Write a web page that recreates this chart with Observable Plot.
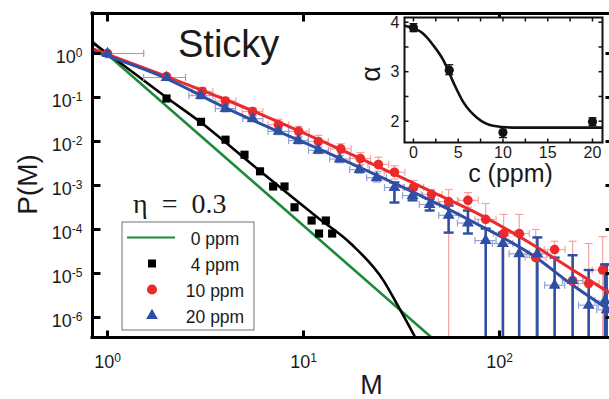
<!DOCTYPE html>
<html>
<head>
<meta charset="utf-8">
<script src="https://cdn.jsdelivr.net/npm/d3@7"></script>
<script src="https://cdn.jsdelivr.net/npm/@observablehq/plot@0.6"></script>
<style>
  html, body { margin: 0; padding: 0; background: #fff; }
  #wrap { position: relative; width: 609px; height: 399px; overflow: hidden; font-family: "Liberation Sans", Arial, sans-serif; }
  #wrap svg { display: block; max-width: none; overflow: visible; }
  #inset { position: absolute; left: 340px; top: 0; }
</style>
</head>
<body>
<div id="wrap"><div id="main"></div><div id="inset"></div></div>
<script>
// ---------------- main axes ----------------
const xDomain = [0.8385, 364];
const yDomain = [3.51e-7, 8.11];
const xTicks = [1, 10, 100];
const yTicks = [1, 1e-1, 1e-2, 1e-3, 1e-4, 1e-5, 1e-6];

// ---------------- 0 ppm (fit line only) ----------------
const fit0M = [0.8385, 45];
const fit0P = [1.87, 3.51e-7];

// ---------------- 4 ppm ----------------
const pts4M = [2, 3, 4, 5, 6, 7, 8, 9, 11, 12, 13, 14];
const pts4P = [0.095, 0.028, 0.011, 0.005, 0.0021, 0.00095, 0.00095, 0.00032, 0.00016, 0.000081, 0.00016, 0.000081];
const fit4M = [0.8385, 1, 2, 3, 5.37, 7.9, 11.75, 17.4, 25.6, 30.2, 37.2];
const fit4P = [1.75, 1, 0.1, 0.027, 0.0032, 0.00079, 0.00019, 0.000048, 0.0000069, 0.0000019, 0.00000035];

// ---------------- 10 ppm ----------------
const pts10M   = [1, 2, 3.05, 4.0, 5.5, 7.45, 9.45, 11.9, 15.5, 19.5, 24.1, 29.1, 36.4, 45, 55, 69, 85, 105, 126, 153, 191, 236, 285, 336];
const pts10P   = [1, 0.30, 0.137, 0.083, 0.048, 0.024, 0.017, 0.010, 0.0068, 0.0041, 0.0030, 0.0020, 0.00090, 0.00063, 0.00043, 0.00046, 0.00017, 8.1e-5, 8.1e-5, 2.3e-5, 3.5e-5, 6.9e-6, 5.9e-6, 1.2e-5];
const pts10Hi  = [1, 0.30, 0.17, 0.10, 0.059, 0.032, 0.022, 0.0138, 0.0089, 0.0056, 0.0044, 0.0028, 0.0013, 0.00081, 0.00081, 0.00069, 0.00039, 2.2e-4, 2.2e-4, 1.0e-4, 5.4e-5, 5.4e-5, 4.8e-5, 6.9e-5];
const pts10Lo  = [1, 0.30, 0.11, 0.066, 0.039, 0.019, 0.013, 0.0073, 0.0054, 0.0030, 0.0021, 0.0014, 5.9e-4, 3.9e-4, 0, 3.2e-4, 0, 0, 0, 0, 0, 0, 0, 0];
const pts10MLo = [1, 2, 2.7, 3.54, 4.87, 6.6, 8.4, 10.5, 13.7, 17.3, 21.3, 25.8, 32.2, 39.8, 48.7, 61, 75, 93, 111.5, 135, 169, 209, 252, 297];
const pts10MHi = [1, 2, 3.45, 4.52, 6.2, 8.4, 10.7, 13.4, 17.5, 22, 27.2, 32.9, 41, 51, 62, 78, 96, 119, 142, 173, 216, 267, 322, 380];
const fit10M = [0.8385, 2, 3.77, 15.4, 56, 71, 156, 230, 370];
const fit10P = [1.28, 0.30, 0.1, 0.0066, 4.6e-4, 2.8e-4, 3.9e-5, 1.3e-5, 3.5e-6];

// ---------------- 20 ppm ----------------
const pts20M   = [1, 2, 3.0, 4.0, 5.5, 7.46, 9.43, 11.9, 15.3, 19.3, 23.6, 29.1, 36, 44, 55, 69, 85, 104, 126, 156, 191, 236, 285, 345, 352];
const pts20P   = [1, 0.285, 0.11, 0.056, 0.033, 0.017, 0.0105, 0.0063, 0.0040, 0.0023, 0.0015, 9.0e-4, 5.9e-4, 3.7e-4, 2.1e-4, 1.4e-4, 5.6e-5, 4.8e-5, 2.8e-5, 2.8e-5, 5.4e-6, 6.9e-6, 1.9e-6, 2.4e-6, 1.5e-6];
const pts20Hi  = [1, 0.32, 0.13, 0.066, 0.039, 0.020, 0.0125, 0.0075, 0.0048, 0.0028, 0.0019, 1.17e-3, 8.5e-4, 5.0e-4, 3.5e-4, 2.7e-4, 1.05e-4, 8.5e-5, 7.7e-5, 6.6e-5, 2.3e-5, 2.6e-5, 1.2e-5, 1.6e-5, 1.6e-5];
const pts20Lo  = [1, 0.25, 0.093, 0.047, 0.028, 0.0143, 0.0088, 0.0053, 0.0033, 0.0019, 0.0012, 4.1e-4, 4.6e-4, 2.7e-4, 8.5e-5, 8.1e-5, 0, 0, 0, 0, 0, 0, 0, 0, 0];
const pts20MLo = [0.7, 1.53, 2.6, 3.55, 4.9, 6.6, 8.4, 10.6, 13.6, 17.2, 21, 25.9, 32, 39, 49, 61, 75, 92, 112, 138, 170, 210, 253, 307, 313];
const pts20MHi = [1.53, 2.5, 3.45, 4.5, 6.2, 8.4, 10.6, 13.4, 17.2, 21.7, 26.5, 32.7, 40.5, 49.5, 62, 78, 96, 117, 142, 176, 215, 266, 320, 388, 396];
const fit20M = [0.8385, 2, 3.77, 15.4, 71, 156, 230, 370];
const fit20P = [1.13, 0.27, 0.066, 0.0041, 1.6e-4, 2.2e-5, 5.9e-6, 1.4e-6];

// ---------------- inset ----------------
const insetC = [0, 4, 10, 20];
const insetAlpha = [3.89, 3.03, 1.77, 1.99];
const insetLo = [3.81, 2.94, 1.67, 1.91];
const insetHi = [3.97, 3.14, 1.87, 2.07];
const insetFitC = [-1, 0, 1, 2.23, 3.35, 4.47, 5.59, 7.1, 8.9, 11.6, 21.12];
const insetFitA = [3.93, 3.88, 3.78, 3.53, 3.23, 2.78, 2.38, 2.07, 1.91, 1.87, 1.87];
const insetXDomain = [-1.0, 21.12];
const insetYDomain = [1.57, 4.095];
const insetXTicks = [0, 5, 10, 15, 20];
const insetXMinor = [0, 2.5, 5, 7.5, 10, 12.5, 15, 17.5, 20];
const insetYTicks = [2, 3, 4];
const insetYMinor = [2, 2.5, 3, 3.5, 4];

// ---------------- texts ----------------
const legendLabels = ["0 ppm", "4 ppm", "10 ppm", "20 ppm"];
const titleText = "Sticky";
const etaText = "\u03b7 = 0.3";
const xLabel = "M", yLabel = "P(M)";
const insetXLabel = "c (ppm)", insetYLabel = "\u03b1";

// ---------------- colours ----------------
const GREEN = "#1d8a3b", RED = "#ec2a2c", RED_LIGHT = "#f5a3a3", BLUE = "#2f4fa4", BLUE_LIGHT = "#8fa2d6";

// ---------------- helpers ----------------
const pairs = (xs, ys) => xs.map((x, i) => ({M: x, P: ys[i]}));
const axisFloor = yDomain[0] / 10;
const errTable = (M, P, lo, hi, mlo, mhi) => M.map((m, i) => ({
  M: m, P: P[i], hi: hi[i], lo: lo[i] > 0 ? lo[i] : axisFloor, toAxis: !(lo[i] > 0), mlo: mlo[i], mhi: mhi[i]
}));
const sym = f => ({draw(ctx, size) { const r = Math.sqrt(size / Math.PI); f(ctx, r); }});
const hCap = sym((c, r) => { c.moveTo(-r, 0); c.lineTo(r, 0); });
const vCap = sym((c, r) => { c.moveTo(0, -r); c.lineTo(0, r); });
const tickUp = sym((c, r) => { c.moveTo(0, 0); c.lineTo(0, -r); });
const tickDown = sym((c, r) => { c.moveTo(0, 0); c.lineTo(0, r); });
const tickRight = sym((c, r) => { c.moveTo(0, 0); c.lineTo(r, 0); });
const tickLeft = sym((c, r) => { c.moveTo(0, 0); c.lineTo(-r, 0); });

const fit0 = pairs(fit0M, fit0P);
const fit4 = pairs(fit4M, fit4P);
const pts4 = pairs(pts4M, pts4P);
const fit10 = pairs(fit10M, fit10P);
const fit20 = pairs(fit20M, fit20P);
const red = errTable(pts10M, pts10P, pts10Lo, pts10Hi, pts10MLo, pts10MHi);
const blue = errTable(pts20M, pts20P, pts20Lo, pts20Hi, pts20MLo, pts20MHi);

function errMarks(data, light, vStroke, vWidth, capR) {
  return [
    Plot.ruleY(data.filter(d => d.mhi > d.mlo), {y: "P", x1: "mlo", x2: "mhi", stroke: light, strokeWidth: 1.2, clip: true}),
    Plot.dot(data.filter(d => d.mhi > d.mlo), {x: "mlo", y: "P", symbol: vCap, r: 3.5, fill: "none", stroke: light, strokeWidth: 1.2, clip: true}),
    Plot.dot(data.filter(d => d.mhi > d.mlo), {x: "mhi", y: "P", symbol: vCap, r: 3.5, fill: "none", stroke: light, strokeWidth: 1.2, clip: true}),
    Plot.ruleX(data.filter(d => d.hi > d.lo), {x: "M", y1: "lo", y2: "hi", stroke: vStroke, strokeWidth: vWidth, clip: true}),
    Plot.dot(data.filter(d => d.hi > d.P), {x: "M", y: "hi", symbol: hCap, r: capR, fill: "none", stroke: vStroke, strokeWidth: vWidth, clip: true}),
    Plot.dot(data.filter(d => !d.toAxis && d.lo < d.P), {x: "M", y: "lo", symbol: hCap, r: capR, fill: "none", stroke: vStroke, strokeWidth: vWidth, clip: true})
  ];
}

const supLabel = d => "10^" + Math.round(Math.log10(d));

const main = Plot.plot({
  width: 609, height: 399,
  marginLeft: 92, marginRight: 0, marginTop: 13, marginBottom: 62,
  x: {type: "log", domain: xDomain, axis: null},
  y: {type: "log", domain: yDomain, axis: null},
  style: {background: "white", fontFamily: "Liberation Sans, Arial, sans-serif", color: "#1a1a1a", overflow: "hidden"},
  marks: [
    Plot.line(fit0, {x: "M", y: "P", stroke: GREEN, strokeWidth: 2.6, clip: true}),
    Plot.line(fit4, {x: "M", y: "P", stroke: "#000", strokeWidth: 2.6, curve: "monotone-x", clip: true}),
    Plot.dot(pts4, {x: "M", y: "P", symbol: "square", r: 4.6, fill: "#000", stroke: "none", clip: true}),
    ...errMarks(red, RED_LIGHT, RED_LIGHT, 1.2, 4),
    ...errMarks(blue, BLUE_LIGHT, d => d.M >= 25 ? BLUE : BLUE_LIGHT, 1.2, 4),
    Plot.ruleX(blue.filter(d => d.M >= 25), {x: "M", y1: "lo", y2: "hi", stroke: BLUE, strokeWidth: 2.6, clip: true}),
    Plot.dot(blue.filter(d => d.M >= 25), {x: "M", y: "hi", symbol: hCap, r: 5, fill: "none", stroke: BLUE, strokeWidth: 2.4, clip: true}),
    Plot.dot(blue.filter(d => d.M >= 25 && !d.toAxis), {x: "M", y: "lo", symbol: hCap, r: 5, fill: "none", stroke: BLUE, strokeWidth: 2.4, clip: true}),
    Plot.line(fit10, {x: "M", y: "P", stroke: RED, strokeWidth: 3, curve: "monotone-x", clip: true}),
    Plot.line(fit20, {x: "M", y: "P", stroke: BLUE, strokeWidth: 3, curve: "monotone-x", clip: true}),
    Plot.dot(red, {x: "M", y: "P", r: 4.8, fill: RED, stroke: "none", clip: true}),
    Plot.dot(blue, {x: "M", y: "P", symbol: "triangle", r: 4.4, fill: BLUE, stroke: "none", clip: true}),
    // frame
    Plot.ruleX([xDomain[0]], {x: d => d, stroke: "#000", strokeWidth: 3, strokeLinecap: "square"}),
    Plot.ruleY([yDomain[0]], {y: d => d, stroke: "#000", strokeWidth: 3, strokeLinecap: "square"}),
    Plot.ruleY([yDomain[1]], {y: d => d, stroke: "#000", strokeWidth: 3, strokeLinecap: "square"}),
    // inward ticks
    Plot.dot(xTicks, {x: d => d, y: () => yDomain[0], symbol: tickUp, r: 7, fill: "none", stroke: "#000", strokeWidth: 3}),
    Plot.dot(xTicks, {x: d => d, y: () => yDomain[1], symbol: tickDown, r: 8, fill: "none", stroke: "#000", strokeWidth: 3}),
    Plot.dot(yTicks, {x: () => xDomain[0], y: d => d, symbol: tickRight, r: 8, fill: "none", stroke: "#000", strokeWidth: 3}),
    Plot.dot(yTicks, {x: () => xDomain[1], y: d => d, symbol: tickLeft, r: 4, fill: "none", stroke: "#000", strokeWidth: 3}),
    // tick labels
    Plot.text(xTicks, {x: d => d, y: () => yDomain[0], text: supLabel, dy: 25, fontSize: 18, textAnchor: "middle", fill: "#1a1a1a"}),
    Plot.text(yTicks, {x: () => xDomain[0], y: d => d, text: supLabel, dx: -10, dy: 4, fontSize: 18, textAnchor: "end", fill: "#1a1a1a"})
  ]
});
document.getElementById("main").appendChild(main);

// superscripts for tick labels
d3.select(main).selectAll("text").each(function () {
  const t = this.textContent;
  if (t.startsWith("10^")) {
    const e = t.slice(3);
    const s = d3.select(this);
    s.text(null);
    s.append("tspan").text("10");
    s.append("tspan").attr("dy", "-6").attr("font-size", "12").text(e);
  }
});

const svg = d3.select(main);
// axis titles
svg.append("text").attr("x", 371.5).attr("y", 394).attr("text-anchor", "middle")
  .attr("font-size", 27).attr("fill", "#1a1a1a").text(xLabel);
svg.append("text").attr("transform", "translate(37,184.5) rotate(-90)").attr("text-anchor", "middle")
  .attr("font-size", 28).attr("fill", "#1a1a1a").text(yLabel);
// title
svg.append("text").attr("x", 178).attr("y", 57).attr("text-anchor", "start")
  .attr("font-size", 38).attr("fill", "#1a1a1a").text(titleText);
// eta
svg.append("text").attr("x", 133).attr("y", 213).attr("text-anchor", "start").attr("font-size", 28)
  .attr("font-family", "Liberation Serif, Times New Roman, serif").attr("fill", "#1a1a1a")
  .attr("word-spacing", 7).text(etaText);

// legend
const lg = svg.append("g");
lg.append("rect").attr("x", 122).attr("y", 222).attr("width", 132).attr("height", 108)
  .attr("fill", "white").attr("stroke", "#8a8a8a").attr("stroke-width", 1.2);
const legendBase = [245, 271, 297, 323];
legendLabels.forEach((lab, i) => {
  const cy = legendBase[i] - 7.5;
  if (i === 0) {
    lg.append("line").attr("x1", 127).attr("x2", 175).attr("y1", cy).attr("y2", cy)
      .attr("stroke", GREEN).attr("stroke-width", 2);
  } else {
    const type = [null, d3.symbolSquare, d3.symbolCircle, d3.symbolTriangle][i];
    const size = [0, 64, 80, 60][i];
    const col = [null, "#000", RED, BLUE][i];
    lg.append("path").attr("d", d3.symbol(type, size)()).attr("fill", col)
      .attr("transform", `translate(152,${cy})`);
  }
  lg.append("text").attr("x", 215).attr("y", legendBase[i]).attr("text-anchor", "middle")
    .attr("font-size", 17.5).attr("fill", "#1a1a1a").text(lab);
});

// ---------------- inset plot ----------------
const insetPts = insetC.map((c, i) => ({c, a: insetAlpha[i], lo: insetLo[i], hi: insetHi[i]}));
const insetFit = insetFitC.map((c, i) => ({c, a: insetFitA[i]}));
const inset = Plot.plot({
  width: 269, height: 190,
  marginLeft: 64, marginRight: 7, marginTop: 17, marginBottom: 48,
  x: {domain: insetXDomain, axis: null},
  y: {domain: insetYDomain, axis: null},
  style: {background: "transparent", fontFamily: "Liberation Sans, Arial, sans-serif", color: "#1a1a1a"},
  marks: [
    Plot.frame({fill: "white", stroke: "none"}),
    Plot.line(insetFit, {x: "c", y: "a", stroke: "#111", strokeWidth: 2.6, curve: "monotone-x", clip: true}),
    Plot.ruleX(insetPts, {x: "c", y1: "lo", y2: "hi", stroke: "#111", strokeWidth: 1.2}),
    Plot.dot(insetPts, {x: "c", y: "hi", symbol: hCap, r: 4, fill: "none", stroke: "#111", strokeWidth: 1.3}),
    Plot.dot(insetPts, {x: "c", y: "lo", symbol: hCap, r: 4, fill: "none", stroke: "#111", strokeWidth: 1.3}),
    Plot.dot(insetPts, {x: "c", y: "a", r: 4.6, fill: "#111", stroke: "none"}),
    Plot.dot(insetXMinor, {x: d => d, y: () => insetYDomain[0], symbol: tickUp, r: 4, fill: "none", stroke: "#111", strokeWidth: 1.5}),
    Plot.dot(insetXMinor, {x: d => d, y: () => insetYDomain[1], symbol: tickDown, r: 4, fill: "none", stroke: "#111", strokeWidth: 1.5}),
    Plot.dot(insetYMinor, {x: () => insetXDomain[0], y: d => d, symbol: tickRight, r: 4, fill: "none", stroke: "#111", strokeWidth: 1.5}),
    Plot.dot(insetYMinor, {x: () => insetXDomain[1], y: d => d, symbol: tickLeft, r: 4, fill: "none", stroke: "#111", strokeWidth: 1.5}),
    Plot.frame({stroke: "#111", strokeWidth: 2}),
    Plot.text(insetXTicks, {x: d => d, y: () => insetYDomain[0], text: d => String(d), dy: 10, fontSize: 16, textAnchor: "middle", fill: "#1a1a1a"}),
    Plot.text(insetYTicks, {x: () => insetXDomain[0], y: d => d, text: d => String(d), dx: -5, dy: 0.5, fontSize: 16, textAnchor: "end", fill: "#1a1a1a"})
  ]
});
document.getElementById("inset").appendChild(inset);
const isvg = d3.select(inset);
isvg.append("text").attr("x", 170.5).attr("y", 182).attr("text-anchor", "middle")
  .attr("font-size", 25).attr("fill", "#1a1a1a").text(insetXLabel);
isvg.append("text").attr("transform", "translate(40,74) rotate(-90)").attr("text-anchor", "middle")
  .attr("font-size", 27).attr("fill", "#1a1a1a").text(insetYLabel);
</script>
</body>
</html>
